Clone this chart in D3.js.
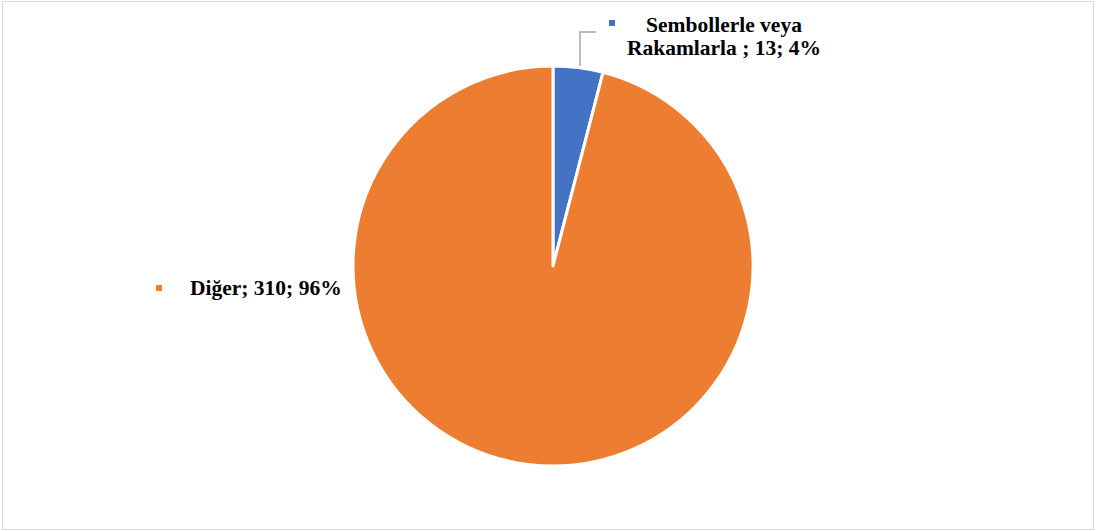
<!DOCTYPE html>
<html><head><meta charset="utf-8">
<script src="https://cdn.jsdelivr.net/npm/d3@7"></script>
<style>body{margin:0;background:#fff}</style></head>
<body><svg id="c" width="1096" height="531"></svg>
<script>
const categories = ["Sembollerle veya Rakamlarla ", "Diğer"];
const values = [13, 310];
const percents = ["4%", "96%"];
const colors = ["#4472C4", "#ED7D31"];

const svg = d3.select("#c");
svg.append("rect").attr("x",2.5).attr("y",1.5).attr("width",1091).attr("height",528)
  .attr("fill","#fff").attr("stroke","#d9d9d9").attr("stroke-width",1);

const cx = 553, cy = 266, r = 200;
const pie = d3.pie().sort(null).value(d=>d)(values);
const arc = d3.arc().innerRadius(0).outerRadius(r);
const g = svg.append("g").attr("transform",`translate(${cx},${cy})`);
g.selectAll("path").data(pie).join("path")
  .attr("d",arc).attr("fill",(d,i)=>colors[i])
  .attr("stroke","#fff").attr("stroke-width",3).attr("stroke-linejoin","round");

// leader line for small slice
svg.append("polyline").attr("points","580,66 580,32 596,32")
  .attr("fill","none").attr("stroke","#a6a6a6").attr("stroke-width",1.5);

const font = "'Liberation Serif','Times New Roman',serif";
const fs = 21.5;
// label 1
svg.append("rect").attr("x",609).attr("y",20).attr("width",6).attr("height",6).attr("fill",colors[0]);
const t1 = svg.append("text").attr("font-family",font).attr("font-weight","bold").attr("font-size",fs)
  .attr("text-anchor","middle").attr("fill","#000");
t1.append("tspan").attr("x",724).attr("y",32).text("Sembollerle veya");
t1.append("tspan").attr("x",724).attr("y",55).text(`Rakamlarla ; ${values[0]}; ${percents[0]}`);

// label 2
svg.append("rect").attr("x",156).attr("y",285).attr("width",6).attr("height",6).attr("fill",colors[1]);
svg.append("text").attr("font-family",font).attr("font-weight","bold").attr("font-size",fs)
  .attr("x",190).attr("y",295).attr("fill","#000")
  .text(`${categories[1]}; ${values[1]}; ${percents[1]}`);
</script></body></html>
